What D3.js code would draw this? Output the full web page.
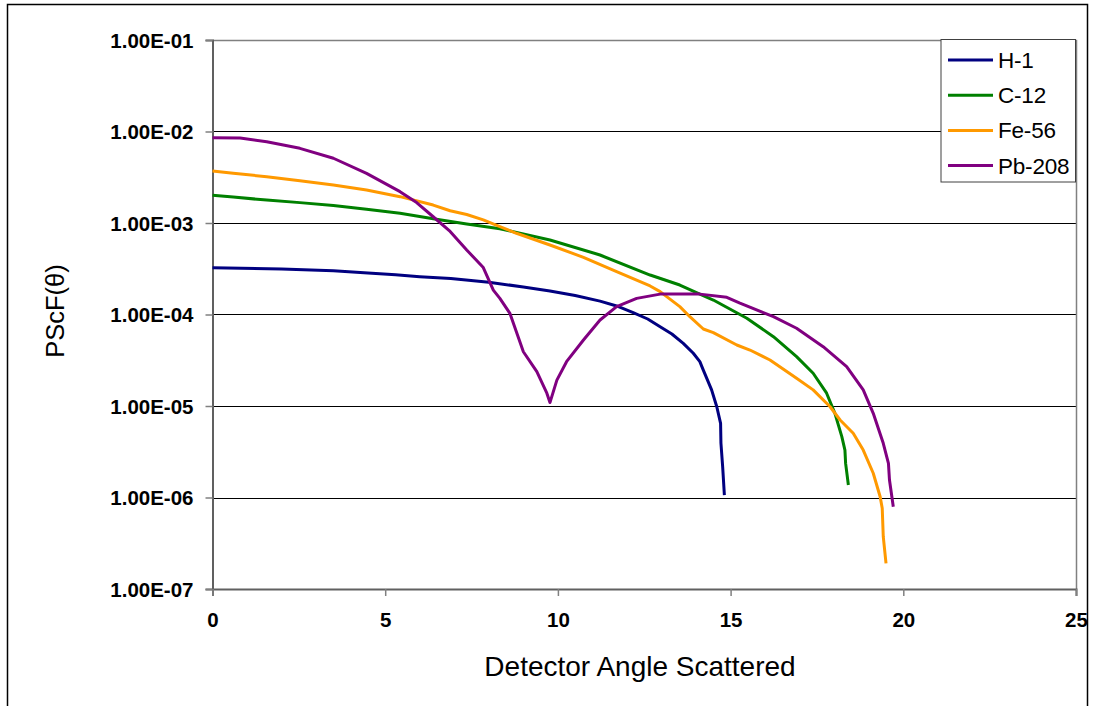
<!DOCTYPE html>
<html>
<head>
<meta charset="utf-8">
<script src="https://cdn.jsdelivr.net/npm/d3@7"></script>
<style>
    body { margin: 0; background: #fff; }
    svg { display: block; font-family: "Liberation Sans", Arial, sans-serif; }
</style>
</head>
<body>
<div id="chart"></div>
<script>
// Chart data (angle in degrees, PScF value)
const seriesNames = ['H-1', 'C-12', 'Fe-56', 'Pb-208'];
const seriesColors = ['#000080', '#008000', '#FF9900', '#800080'];

const h1Angle = [0, 2, 3.5, 4.5, 5.3, 6.0, 6.9, 8.0, 9.0, 9.77, 10.5, 11.22, 11.7, 12.18, 12.6, 12.96, 13.3, 13.63, 13.92, 14.11, 14.21, 14.45, 14.6, 14.71, 14.72, 14.77, 14.82];
const h1Value = [3.25e-4, 3.14e-4, 3.01e-4, 2.84e-4, 2.72e-4, 2.59e-4, 2.47e-4, 2.25e-4, 2.00e-4, 1.81e-4, 1.61e-4, 1.40e-4, 1.24e-4, 1.05e-4, 8.93e-5, 7.36e-5, 6.12e-5, 4.84e-5, 3.77e-5, 3.05e-5, 2.47e-5, 1.50e-5, 9.82e-6, 6.47e-6, 3.94e-6, 2.17e-6, 1.06e-6];

const c12Angle = [0, 0.6, 1.57, 2.53, 3.5, 4.46, 5.43, 6.39, 7.36, 8.32, 9.77, 11.22, 12.67, 13.53, 14.11, 14.5, 15.47, 16.24, 16.91, 17.39, 17.78, 18.02, 18.22, 18.31, 18.33, 18.41];
const c12Value = [2.01e-3, 1.92e-3, 1.78e-3, 1.67e-3, 1.55e-3, 1.41e-3, 1.28e-3, 1.11e-3, 9.75e-4, 8.66e-4, 6.52e-4, 4.47e-4, 2.70e-4, 2.10e-4, 1.67e-4, 1.44e-4, 9.09e-5, 5.72e-5, 3.46e-5, 2.28e-5, 1.38e-5, 8.32e-6, 4.62e-6, 3.30e-6, 2.36e-6, 1.37e-6];

const fe56Angle = [0, 0.6, 1.57, 2.53, 3.5, 4.46, 5.43, 6.39, 6.88, 7.36, 7.84, 8.32, 8.8, 9.77, 10.74, 11.7, 12.67, 12.96, 13.53, 13.82, 14.21, 14.5, 15.18, 15.56, 16.14, 16.91, 17.39, 17.88, 18.17, 18.55, 18.84, 19.13, 19.33, 19.39, 19.42, 19.5];
const fe56Value = [3.70e-3, 3.49e-3, 3.21e-3, 2.90e-3, 2.60e-3, 2.29e-3, 1.94e-3, 1.57e-3, 1.36e-3, 1.24e-3, 1.08e-3, 9.15e-4, 7.72e-4, 5.75e-4, 4.22e-4, 2.94e-4, 2.05e-4, 1.78e-4, 1.22e-4, 9.46e-5, 6.94e-5, 6.33e-5, 4.64e-5, 4.09e-5, 3.18e-5, 2.01e-5, 1.50e-5, 9.82e-6, 7.03e-6, 5.03e-6, 3.30e-6, 1.84e-6, 1.02e-6, 7.62e-7, 3.73e-7, 1.91e-7];

const pb208Angle = [0, 0.8, 1.57, 2.53, 3.5, 4.46, 5.43, 5.91, 6.39, 6.88, 7.36, 7.84, 8.13, 8.32, 8.61, 8.81, 9.0, 9.39, 9.68, 9.77, 9.97, 10.25, 10.74, 11.22, 11.7, 12.28, 12.96, 14.11, 14.89, 15.27, 16.24, 16.91, 17.68, 18.36, 18.84, 19.13, 19.42, 19.57, 19.6, 19.71];
const pb208Value = [8.56e-3, 8.49e-3, 7.74e-3, 6.55e-3, 5.10e-3, 3.49e-3, 2.20e-3, 1.67e-3, 1.17e-3, 8.08e-4, 5.07e-4, 3.26e-4, 1.85e-4, 1.50e-4, 1.03e-4, 6.28e-5, 3.92e-5, 2.37e-5, 1.38e-5, 1.09e-5, 1.92e-5, 3.05e-5, 5.26e-5, 8.71e-5, 1.22e-4, 1.50e-4, 1.67e-4, 1.67e-4, 1.54e-4, 1.33e-4, 9.46e-5, 7.07e-5, 4.45e-5, 2.69e-5, 1.50e-5, 8.32e-6, 3.91e-6, 2.36e-6, 1.55e-6, 7.93e-7];

const xTicks = [0, 5, 10, 15, 20, 25];
const yTicks = [1e-7, 1e-6, 1e-5, 1e-4, 1e-3, 1e-2, 1e-1];
const yTickLabels = ['1.00E-07', '1.00E-06', '1.00E-05', '1.00E-04', '1.00E-03', '1.00E-02', '1.00E-01'];

const width = 1094;
const height = 706;
const plot = { left: 212.5, right: 1076, top: 40, bottom: 589 };

const series = [
    { name: seriesNames[0], color: seriesColors[0], values: d3.zip(h1Angle, h1Value) },
    { name: seriesNames[1], color: seriesColors[1], values: d3.zip(c12Angle, c12Value) },
    { name: seriesNames[2], color: seriesColors[2], values: d3.zip(fe56Angle, fe56Value) },
    { name: seriesNames[3], color: seriesColors[3], values: d3.zip(pb208Angle, pb208Value) }
];

const svg = d3.select("#chart")
    .append("svg")
    .attr("width", width)
    .attr("height", height);

// Outer chart frame
svg.append("rect")
    .attr("x", 7.5)
    .attr("y", 4.5)
    .attr("width", 1080)
    .attr("height", 720)
    .attr("fill", "none")
    .attr("stroke", "#000")
    .attr("stroke-width", 1.5);

// Scales
const x = d3.scaleLinear()
    .domain([0, 25])
    .range([plot.left, plot.right]);

const y = d3.scaleLog()
    .domain([1e-7, 1e-1])
    .range([plot.bottom, plot.top]);

// Horizontal gridlines
svg.append("g")
    .selectAll("line")
    .data(yTicks.slice(1, -1))
    .enter().append("line")
    .attr("x1", plot.left)
    .attr("x2", plot.right)
    .attr("y1", d => Math.round(y(d)) + 0.5)
    .attr("y2", d => Math.round(y(d)) + 0.5)
    .attr("stroke", "#000")
    .attr("stroke-width", 1);

// Top and right border of plot area
svg.append("path")
    .attr("d", `M${plot.left},${plot.top + 0.5}H${plot.right + 0.5}V${plot.bottom}`)
    .attr("fill", "none")
    .attr("stroke", "#808080")
    .attr("stroke-width", 1.5);

// Y axis
const yAxis = d3.axisLeft(y)
    .tickValues(yTicks)
    .tickSize(7)
    .tickFormat((d, i) => yTickLabels[i]);

const yAxisG = svg.append("g")
    .attr("transform", `translate(${plot.left},0)`)
    .call(yAxis);

yAxisG.select(".domain").attr("stroke", "#606060").attr("stroke-width", 2);
yAxisG.selectAll(".tick line").attr("stroke", "#808080").attr("stroke-width", 1.5);
yAxisG.selectAll(".tick text")
    .attr("x", -19)
    .attr("dy", "0.36em")
    .attr("font-size", "20.5px")
    .attr("font-weight", "bold")
    .attr("font-family", "'Liberation Sans', Arial, sans-serif")
    .attr("fill", "#000");

// X axis
const xAxis = d3.axisBottom(x)
    .tickValues(xTicks)
    .tickSize(7)
    .tickFormat(d3.format("d"));

const xAxisG = svg.append("g")
    .attr("transform", `translate(0,${plot.bottom})`)
    .call(xAxis);

xAxisG.select(".domain").attr("stroke", "#606060").attr("stroke-width", 2);
xAxisG.selectAll(".tick line").attr("stroke", "#808080").attr("stroke-width", 1.5);
xAxisG.selectAll(".tick text")
    .attr("y", 23)
    .attr("dy", "0.71em")
    .attr("font-size", "20.5px")
    .attr("font-weight", "bold")
    .attr("font-family", "'Liberation Sans', Arial, sans-serif")
    .attr("fill", "#000");

// Axis titles
svg.append("text")
    .attr("x", 640)
    .attr("y", 676)
    .attr("text-anchor", "middle")
    .attr("font-size", "28px")
    .attr("fill", "#000")
    .text("Detector Angle Scattered");

svg.append("text")
    .attr("transform", "translate(64,311) rotate(-90)")
    .attr("text-anchor", "middle")
    .attr("font-size", "25.5px")
    .attr("fill", "#000")
    .text("PScF(θ)");

// Series lines
const line = d3.line()
    .x(d => x(d[0]))
    .y(d => y(d[1]));

svg.append("g")
    .selectAll("path")
    .data(series)
    .enter().append("path")
    .attr("d", d => line(d.values))
    .attr("fill", "none")
    .attr("stroke", d => d.color)
    .attr("stroke-width", 3)
    .attr("stroke-linejoin", "round");

// Legend
const legendG = svg.append("g")
    .attr("transform", "translate(941,39.5)");

legendG.append("rect")
    .attr("width", 134.5)
    .attr("height", 142.5)
    .attr("fill", "#fff")
    .attr("stroke", "#404040")
    .attr("stroke-width", 1);

const legendItem = legendG.selectAll(".legend-item")
    .data(series)
    .enter().append("g")
    .attr("class", "legend-item")
    .attr("transform", (d, i) => `translate(0,${20.5 + i * 35.2})`);

legendItem.append("line")
    .attr("x1", 7)
    .attr("x2", 52)
    .attr("stroke", d => d.color)
    .attr("stroke-width", 3);

legendItem.append("text")
    .attr("x", 57)
    .attr("y", 8)
    .attr("font-size", "22.5px")
    .attr("letter-spacing", "-0.2px")
    .attr("fill", "#000")
    .text(d => d.name);
</script>
</body>
</html>
